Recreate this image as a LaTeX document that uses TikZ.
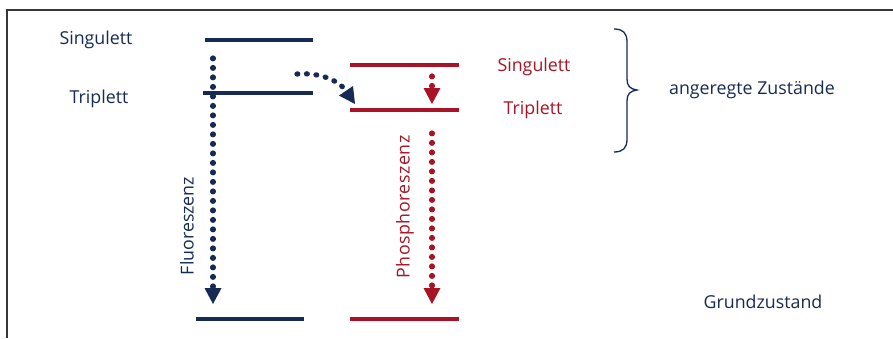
\documentclass[tikz,border=0pt]{standalone}
\usepackage{fontspec}
\setmainfont{Open Sans}
\usetikzlibrary{arrows.meta}
\definecolor{navy}{RGB}{22,42,84}
\definecolor{crimson}{RGB}{168,20,38}
\definecolor{framegray}{RGB}{55,55,55}
\tikzset{
  level/.style={line width=3.2pt},
  lbl/.style={inner sep=0pt, font=\fontsize{17.8}{20}\selectfont},
  dotflow/.style={line width=5.2pt, line cap=round, dash pattern=on 0.8pt off 8.7pt,
    -{Triangle[width=17pt,length=16pt,line width=0pt]}},
  bracepen/.style={navy, line width=1.3pt}
}
\begin{document}
\begin{tikzpicture}[x=1pt,y=-1pt]
\useasboundingbox (0,0) rectangle (893,338);
% frame along the top and left edges
\draw[framegray, line width=1.6pt] (893,10) -- (7,10) -- (7,338);

% energy levels, singlet system
\coordinate (sL1) at (205,40);  \coordinate (sL2) at (313,40);
\coordinate (tL1) at (203,93);  \coordinate (tL2) at (313,93);
\coordinate (gL1) at (196,319); \coordinate (gL2) at (304,319);
% energy levels, triplet system
\coordinate (sR1) at (350,65);  \coordinate (sR2) at (459,65);
\coordinate (tR1) at (350,110); \coordinate (tR2) at (459,110);
\coordinate (gR1) at (350,319); \coordinate (gR2) at (459,319);

\draw[level, navy] (sL1) -- (sL2);
\draw[level, navy] (tL1) -- (tL2);
\draw[level, navy] (gL1) -- (gL2);
\draw[level, crimson] (sR1) -- (sR2);
\draw[level, crimson] (tR1) -- (tR2);
\draw[level, crimson] (gR1) -- (gR2);

% transitions
\coordinate (fA) at (213,58);  \coordinate (fB) at (213,304);
\coordinate (iA) at (297,74);  \coordinate (iB) at (355,104);
\coordinate (rA) at (432,76);  \coordinate (rB) at (432,104);
\coordinate (pA) at (432,133); \coordinate (pB) at (432,304);

\draw[dotflow, navy] (fA) -- (fB);
\draw[dotflow, navy] (iA) .. controls (322,72) and (340,82) .. (iB);
\draw[dotflow, crimson] (rA) -- (rB);
\draw[dotflow, crimson] (pA) -- (pB);

% labels
\node[lbl, navy] (lsL) at (96,40) {Singulett};
\node[lbl, navy] (ltL) at (99,99) {Triplett};
\node[lbl, crimson] (lsR) at (534,67) {Singulett};
\node[lbl, crimson] (ltR) at (533,110) {Triplett};
\node[lbl, navy] (lexc) at (752,90) {angeregte Zustände};
\node[lbl, navy] (lgnd) at (763,302) {Grundzustand};
\node[lbl, navy, rotate=90] (lfl) at (187,226) {Fluoreszenz};
\node[lbl, crimson, rotate=90] (lph) at (405,207) {\addfontfeature{LetterSpace=3}Phosphoreszenz};

% brace grouping the excited states
\draw[bracepen] (614,29) .. controls (623,29) and (627,33) .. (627,42)
  -- (627,79) .. controls (627,86) and (630,89) .. (637,90)
  .. controls (630,91) and (627,94) .. (627,101)
  -- (627,139) .. controls (627,148) and (623,152) .. (614,152);
\end{tikzpicture}
\end{document}
